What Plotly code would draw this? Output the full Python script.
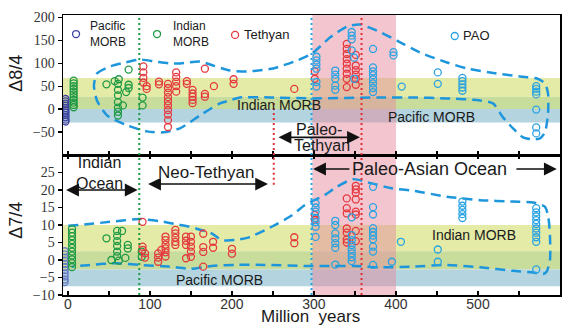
import plotly.graph_objects as go

# ---------------- data ----------------
# upper panel (Delta 8/4)
pac84_age = [-3, -3, -3, -3, -3, -3, -3, -3, -3, -3, -3]
pac84_val = [22, 17, 12, 7, 2, -3, -8, -13, -18, -23, -27]

ind84_age = [7, 7, 7, 7, 7, 7, 7, 7, 7, 7, 7,
             47, 57, 62, 61, 61, 61, 61, 61, 61, 61, 67, 71, 74, 74, 74, 91, 91]
ind84_val = [62, 56, 50, 44, 38, 32, 26, 20, 14, 9, 4,
             54, 61, 65, 55, 42, 30, 15, 3, -6, -14, 8, 37, 46, 53, 86, 25, 8]

tet84_age = [92, 92, 92, 92, 96, 96, 111, 111,
             122, 122, 122, 122, 122, 122, 122, 122, 122, 122,
             132, 132, 132, 132, 132, 145, 145,
             152, 152, 152, 152, 152, 167, 167, 167, 178, 202, 202, 276, 301, 301,
             340, 340, 340, 340, 340, 340, 340, 340, 340,
             351, 351, 351, 351, 351, 351]
tet84_val = [93, 80, 68, 58, 50, 44, 60, 54,
             55, 46, 36, 26, 17, 8, -2, -12, -24, -39,
             80, 70, 60, 50, 38, 61, 55,
             42, 34, 27, 20, 13, 88, 33, 27, 50, 65, 55, 44, 82, 66,
             142, 131, 120, 109, 99, 88, 77, 66, 48,
             118, 95, 85, 75, 66, 53]

pao84_age = [303, 303, 303, 303, 303, 303, 326, 326, 326, 326, 326,
             346, 346, 346, 346, 349, 349,
             372, 372, 372, 372, 372, 372, 372, 372,
             397, 397, 407, 451, 451, 481, 481, 481, 481, 481,
             571, 571, 571, 571, 571, 571, 571]
pao84_val = [114, 106, 97, 88, 59, 49, 84, 75, 66, 51, 42,
             168, 160, 152, 128, 112, 66,
             131, 91, 82, 74, 65, 56, 46, 37,
             124, 117, 49, 80, 55, 68, 61, 54, 47, 40,
             50, 44, 38, 32, -1, -40, -53]

# lower panel (Delta 7/4)
pac74_age = [-4, -4, -4, -4, -4, -4, -4, -4, -4, -4, -4]
pac74_val = [2.5, 1.6, 0.7, -0.2, -1.1, -2.0, -2.9, -3.8, -4.7, -5.6, -6.3]

ind74_age = [5, 5, 5, 5, 5, 5, 5, 5, 5, 5, 5,
             47, 60, 66, 60, 60, 60, 60, 60, 53, 62, 70, 73, 73, 90, 90]
ind74_val = [8.8, 7.8, 6.8, 5.7, 4.6, 3.5, 2.4, 1.3, 0.2, -0.9, -2.0,
             6.2, 8.3, 8.3, 6.9, 5.4, 4.0, 2.4, 1.1, 0.0, -0.2, 0.6, 4.3, 3.3, 2.4, 0.9]

tet74_age = [91, 91, 91, 94, 94, 110, 110, 110, 114,
             119, 119, 119, 119, 119, 119, 131, 131, 131, 131, 131,
             144, 144, 144, 144, 150, 150, 150, 150, 150,
             165, 165, 165, 165, 177, 177, 200, 200, 276, 276, 301, 301,
             340, 340, 340, 340, 340, 340, 340,
             351, 351, 351, 351, 351, 351, 351, 351]
tet74_val = [10.9, 3.8, 2.9, 1.9, 0.7, 1.9, 0.7, -0.5, 2.9,
             6.7, 5.7, 4.4, 3.3, 2.2, 1.0, 8.6, 7.6, 6.4, 5.2, 4.3,
             6.7, 5.5, 4.3, 0.5, 6.7, 5.2, 3.8, 2.4, 0.9,
             7.5, 3.7, 2.3, -1.9, 5.2, 3.5, 3.2, 1.8, 6.5, 4.8, 12.9, 11.5,
             17.6, 14.8, 13.3, 9.0, 7.8, 5.9, 5.0,
             21.2, 20.2, 19.2, 17.3, 13.8, 13.0, 8.3, 5.4]

pao74_age = [302, 302, 302, 302, 302, 302, 302,
             326, 326, 326, 326, 326, 326, 326,
             346, 346, 346, 346, 346, 346, 346, 346,
             372, 372, 372, 372, 372, 372, 372, 372, 372, 372,
             395, 406, 451, 451, 481, 481, 481, 481, 481,
             571, 571, 571, 571, 571, 571, 571, 571, 571, 571]
pao74_val = [16.2, 15.0, 13.8, 12.0, 10.8, 9.5, 6.6,
             11.2, 10.0, 7.6, 6.2, 4.8, 3.5, -1.3,
             12.2, 7.1, 5.7, 4.3, 3.0, 1.9, 0.8, -0.3,
             20.9, 15.1, 13.0, 9.1, 8.0, 7.0, 5.9, 3.8, 2.4, -1.4,
             -0.5, 5.2, 3.0, -0.5, 16.7, 15.5, 14.3, 13.1, 12.0,
             14.8, 13.6, 12.5, 11.4, 10.3, 9.0, 7.8, 6.5, 5.2, -2.7]

# dashed envelopes (hand-drawn fields)
env84_age = [31.7, 35.4, 51.2, 69.5, 87.8, 106, 124.4, 136.6, 161, 176.8, 197.6, 218.3, 250,
             279.3, 297.6, 319.5, 340.2, 356.1, 376.8, 401.2, 429.3, 462.2, 486.6, 514.6,
             551.2, 572, 581.7, 585.4, 585.4, 581.7, 575.6, 567, 554.9, 542.7, 530.5, 518.3,
             502.4, 462.2, 420.7, 380.5, 298.8, 246.3, 209.8, 197.6, 185.4, 161, 136.6,
             115.9, 96.3, 72, 47.6, 35.4, 31.7]
env84_val = [51.5, 77.6, 92.8, 101.5, 108, 103.7, 99.3, 99.3, 103.7, 95, 84.1, 82, 88.5,
             105.9, 121, 155.9, 179.8, 184.1, 171.1, 149.3, 123.3, 101.5, 88.5, 79.8,
             71.1, 66.7, 55.9, 34.1, -9.1, -50.7, -63.7, -65.9, -61.5, -42, -18, 12.4,
             18.9, 23.3, 25.4, 25.4, 23.3, 25.4, 25.4, 18.9, 12.4, -13.7, -42,
             -50.7, -48.5, -35.4, -13.7, 18.9, 51.5]

env74_age = [0.4, 22.8, 51.2, 87.8, 112.2, 132.6, 148.8, 158.9, 175.2, 187.4, 203.7, 219.9,
             248.4, 272.8, 289, 313.4, 327.7, 347.9, 370.4, 394.8, 421.1, 461.8, 502.4, 543,
             567.4, 581.7, 585.7, 587.8, 587.8, 583.8, 579.6, 567.4, 543, 502.4, 461.8, 421.1,
             380.5, 350, 321.6, 291.1, 240.2, 203.7, 175.2, 150, 124.4, 87.8, 59.4, 26.8, 4.5]
env74_val = [9.8, 10.2, 10.9, 11.7, 11.1, 10.2, 9.5, 8.8, 7.6, 5.7, 5.7, 6.4,
             9.5, 12.7, 15.7, 18.6, 20.9, 23.1, 21.9, 20.5, 19.8, 18.1, 17.1, 16.7,
             16.4, 15.2, 12.4, 6.7, 0, -3.3, -4.0, -3.6, -3.1, -2.1, -1.4, -1.9,
             -2.1, -1.7, -1.7, -1.7, -1.4, -1.4, -1.7, -2.5, -1.9, -1.4, -0.9, -1.4, -1.9]

# reference bands (MORB fields) and age markers
indian84_band = [0, 68]
pacific84_band = [-29, 27]
indian74_band = [-2.7, 10]
pacific74_band = [-7.5, 2.5]
pink_span = [298, 400]
green_line_age = 87
blue_line_age = 297
red_line_age = 358
red_short_age = 251

x_tickvals = list(range(0, 601, 50))
x_ticktext = [str(v) if v % 100 == 0 else "" for v in x_tickvals]
y84_ticks = [-50, 0, 50, 100, 150, 200]
y74_ticks = [-10, -5, 0, 5, 10, 15, 20, 25]

# ---------------- styling ----------------
C_PAC = "#3f43a0"
C_PAC2 = "#6a7cc4"
C_IND = "#1f9a45"
C_TET = "#e5383f"
C_PAO = "#2aa3e2"
C_ENV = "#1e96dc"
SANS = "Liberation Sans"
SERIF = "Liberation Serif"
TXT = "#1a1a1a"

fig = go.Figure()


def pts(x, y, color, xa, ya, legend=None):
    fig.add_trace(go.Scatter(
        x=x, y=y, mode="markers", xaxis=xa, yaxis=ya, name=" ",
        legend=legend if legend else "legend", showlegend=legend is not None,
        marker=dict(symbol="circle-open", size=7, color=color, line=dict(width=1.3)),
        hoverinfo="skip"))


# envelopes
for ex, ey, xa, ya in [(env84_age, env84_val, "x2", "y"), (env74_age, env74_val, "x", "y2")]:
    fig.add_trace(go.Scatter(x=ex, y=ey, mode="lines", xaxis=xa, yaxis=ya,
                             line=dict(color=C_ENV, width=2.5, dash="10px,6px", shape="spline", smoothing=0.6),
                             showlegend=False, hoverinfo="skip"))

# legend keys (marker only; their labels are annotations placed like the original)
pts(pac84_age, pac84_val, C_PAC, "x2", "y", "legend")
pts(ind84_age, ind84_val, C_IND, "x2", "y", "legend2")
pts(tet84_age, tet84_val, C_TET, "x2", "y", "legend3")
pts(pao84_age, pao84_val, C_PAO, "x2", "y", "legend4")
pts(pac74_age, pac74_val, C_PAC2, "x", "y2")
pts(ind74_age, ind74_val, C_IND, "x", "y2")
pts(tet74_age, tet74_val, C_TET, "x", "y2")
pts(pao74_age, pao74_val, C_PAO, "x", "y2")

shapes = []
band_cols = ["#e3eba6", "#c8dc9c", "#b4d4df"]
for yr, ind_b, pac_b in [("y", indian84_band, pacific84_band), ("y2", indian74_band, pacific74_band)]:
    for (lo, hi), col in zip([(pac_b[1], ind_b[1]), (ind_b[0], pac_b[1]), (pac_b[0], ind_b[0])], band_cols):
        shapes.append(dict(type="rect", xref="paper", x0=0, x1=1, yref=yr, y0=lo, y1=hi,
                           fillcolor=col, line=dict(width=0), layer="below"))
shapes.append(dict(type="rect", xref="x", x0=pink_span[0], x1=pink_span[1], yref="paper", y0=0, y1=1,
                   fillcolor="rgba(230,140,160,0.5)", line=dict(width=0), layer="below"))
for xv, col in [(green_line_age, "#1f9a45"), (blue_line_age, "#2aa3e2"), (red_line_age, "#e03038")]:
    shapes.append(dict(type="line", xref="x", x0=xv, x1=xv, yref="paper", y0=0, y1=1,
                       line=dict(color=col, width=2, dash="2px,3px"), layer="above"))
shapes.append(dict(type="line", xref="x", x0=red_short_age, x1=red_short_age, yref="y", y0=-100, y1=14,
                   line=dict(color="#e03038", width=2, dash="2px,3px")))
shapes.append(dict(type="line", xref="x", x0=red_short_age, x1=red_short_age, yref="y2", y0=21.5, y1=30,
                   line=dict(color="#e03038", width=2, dash="2px,3px")))

ann = []


def txt(x, y, t, xr, yr, size=14, xanchor="center", **kw):
    ann.append(dict(x=x, y=y, xref=xr, yref=yr, text=t, showarrow=False, xanchor=xanchor, yanchor="middle",
                    font=dict(family=SANS, size=size, color=TXT), **kw))


def arrow(x_head, x_tail, y, xr, yr, both=True):
    ann.append(dict(x=x_head, y=y, ax=x_tail, ay=y, xref=xr, yref=yr, axref=xr, ayref=yr,
                    text="", showarrow=True, arrowhead=2, startarrowhead=2,
                    arrowsize=1.6, startarrowsize=1.6, arrowwidth=1.6, arrowcolor="#111",
                    arrowside="end+start" if both else "end"))


# legend labels
txt(0.050, 0.932, "Pacific<br>MORB", "paper", "paper", 12, xanchor="left", align="left")
txt(0.217, 0.932, "Indian<br>MORB", "paper", "paper", 12, xanchor="left", align="left")
txt(0.360, 0.929, "Tethyan", "paper", "paper", 13, xanchor="left")
txt(0.801, 0.925, "PAO", "paper", "paper", 13, xanchor="left")
# upper panel texts
txt(257, 8, "Indian MORB", "x2", "y")
txt(443, -18, "Pacific MORB", "x2", "y")
txt(306, -44, "Paleo-", "x2", "y", 16)
txt(310, -80, "Tethyan", "x2", "y", 16)
arrow(356, 255, -61.5, "x2", "y")
# lower panel texts
txt(39, 24.9, "Indian<br>Ocean", "x", "y2", 16)
arrow(85, -4, 20, "x", "y2")
txt(168, 24.9, "Neo-Tethyan", "x", "y2", 17)
arrow(244, 96, 21.7, "x", "y2")
txt(441, 26, "Paleo-Asian Ocean", "x", "y2", 18)
arrow(299, 345, 26, "x", "y2", both=False)
arrow(596, 545, 26, "x", "y2", both=False)
txt(495, 7.1, "Indian MORB", "x", "y2")
txt(185, -5.7, "Pacific MORB", "x", "y2")
# axis titles
txt(-0.095, 0.793, "Δ8/4", "paper", "paper", 18, textangle=-90)
txt(-0.095, 0.268, "Δ7/4", "paper", "paper", 18, textangle=-90)
txt(0.497, -0.077, "Million\u00a0\u00a0years", "paper", "paper", 17)

axis_common = dict(showline=True, linecolor="black", linewidth=1.5, showgrid=False, zeroline=False,
                   tickcolor="black", tickwidth=1.3, ticklen=4, automargin=False)

leg = dict(bgcolor="rgba(0,0,0,0)", borderwidth=0, itemwidth=30, xanchor="left", yanchor="middle",
           font=dict(family=SANS, size=12, color=TXT), itemclick=False, itemdoubleclick=False)

fig.update_layout(
    width=570, height=326, autosize=False,
    margin=dict(l=63, r=10, t=15, b=31, autoexpand=False),
    paper_bgcolor="white", plot_bgcolor="white",
    showlegend=True,
    xaxis=dict(domain=[0, 1], anchor="y2", range=[-6, 600], tickmode="array", tickvals=x_tickvals,
               ticktext=x_ticktext, ticks="inside", mirror="ticks", ticklabelstandoff=-4,
               tickfont=dict(family=SANS, size=14, color="#333"), **axis_common),
    xaxis2=dict(domain=[0, 1], anchor="y", matches="x", range=[-6, 600], tickmode="array",
                tickvals=x_tickvals, ticks="inside", showticklabels=False, mirror=True, **axis_common),
    yaxis=dict(domain=[0.5, 1], anchor="x2", range=[-100, 205], tickmode="array", tickvals=y84_ticks,
               ticks="outside", mirror=True, tickfont=dict(family=SERIF, size=14, color="#333"), **axis_common),
    yaxis2=dict(domain=[0, 0.5], anchor="x", range=[-10, 30], tickmode="array", tickvals=y74_ticks,
                ticks="outside", mirror=True, tickfont=dict(family=SERIF, size=14, color="#333"), **axis_common),
    legend=dict(x=-0.014, y=0.932, **leg),
    legend2=dict(x=0.149, y=0.932, **leg),
    legend3=dict(x=0.306, y=0.929, **leg),
    legend4=dict(x=0.748, y=0.925, **leg),
    shapes=shapes,
    annotations=ann,
)

fig.write_html("out.html", config={"displayModeBar": False, "staticPlot": True},
               post_script="document.body.style.margin='0px';document.body.style.padding='0px';")
